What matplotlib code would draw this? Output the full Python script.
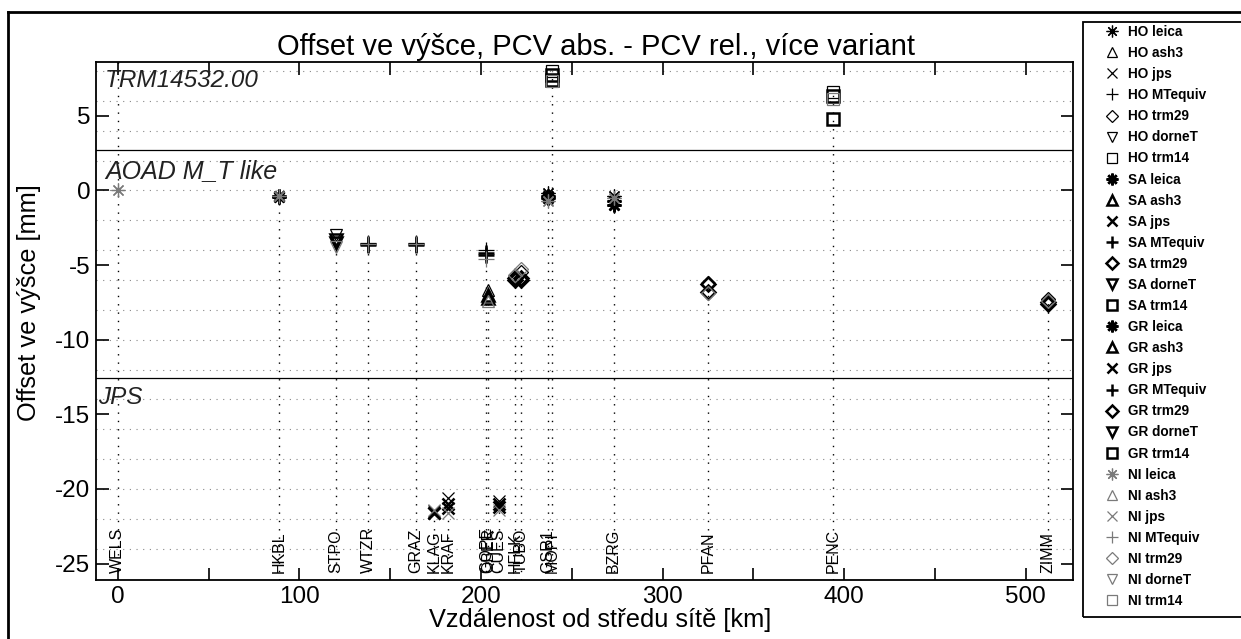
import numpy as np
import matplotlib.pyplot as plt
from matplotlib.lines import Line2D
from matplotlib.patches import Rectangle

plt.rcParams['font.family'] = ['Liberation Sans', 'DejaVu Sans']
plt.rcParams['axes.unicode_minus'] = False

# stations, distance from network centre [km], antenna type of each station
stations = ["WELS", "HKBL", "STPO", "WTZR", "GRAZ", "KLAG", "KRAF", "GOPE", "OBER",
            "CUES", "HFLK", "TUBO", "GSR1", "MOPI", "BZRG", "PFAN", "PENC", "ZIMM"]
distance = [0, 89, 120, 138, 164, 174, 182, 203, 204, 210, 219, 222, 237, 239, 273, 325, 394, 512]
antenna = ["leica", "leica", "dorneT", "MTequiv", "MTequiv", "jps", "jps", "MTequiv", "ash3",
           "jps", "trm29", "trm29", "leica", "trm14", "leica", "trm29", "trm14", "trm29"]

# height offsets [mm] per solution variant
ho = [np.nan, -0.40, -3.0, -3.55, -3.55, -21.5, -20.6, -4.0, -6.7, -20.8, -5.8, -5.5, -0.2, 8.0, -0.4, -6.2, 6.6, -7.3]
sa = [np.nan, -0.35, -3.3, -3.60, -3.60, -21.6, -21.0, -4.2, -7.0, -21.0, -5.9, -5.9, -0.4, 7.7, -0.7, -6.3, 4.8, -7.5]
gr = [np.nan, -0.45, -3.5, -3.65, -3.65, -21.6, -21.3, -4.3, -7.2, -21.2, -6.0, -6.0, -0.5, 7.4, -1.0, -6.8, 6.3, -7.6]
ni = [0.0, -0.40, -3.8, -3.60, -3.60, -21.4, -21.6, -4.6, -7.4, -21.4, -5.7, -5.3, -0.7, 7.3, -0.5, -6.9, 6.1, -7.4]

groups = ["HO", "SA", "GR", "NI"]
antennas = ["leica", "ash3", "jps", "MTequiv", "trm29", "dorneT", "trm14"]

markers = {"leica": (8, 2, 0), "ash3": "^", "jps": "x", "MTequiv": "+",
           "trm29": "D", "dorneT": "v", "trm14": "s"}
msizes = {"leica": 10, "ash3": 8, "jps": 8, "MTequiv": 11, "trm29": 7, "dorneT": 8, "trm14": 8}
gstyle = {"HO": ("black", 0.9), "SA": ("black", 1.8), "GR": ("black", 1.8), "NI": ("#7a7a7a", 0.9)}

W, H = 1241, 639
fig = plt.figure(figsize=(W / 100, H / 100), dpi=100)
ax = fig.add_axes([96 / W, 1 - 580 / H, (1073 - 96) / W, (580 - 62) / H])
ymin, ymax = -26.1, 8.6
ax.set_xlim(-12, 526)
ax.set_ylim(ymin, ymax)

# horizontal dotted grid every 2 mm
for g in np.arange(-24, 9, 2):
    ax.axhline(g, color="#888888", lw=0.8, dashes=(1, 5), zorder=1)

# group separators
ax.axhline(2.7, color="black", lw=0.9, zorder=2)
ax.axhline(-12.55, color="black", lw=0.9, zorder=2)

# station stems and names
vals = np.array([ho, sa, gr, ni])
for i, (st, d) in enumerate(zip(stations, distance)):
    top = np.nanmax(vals[:, i]) if st != "WELS" else ymax
    ax.plot([d, d], [ymin, top], color="black", lw=1.0, dashes=(1, 5), zorder=2)
    ax.text(d, -25.6, st, rotation=90, ha="center", va="bottom", fontsize=11.5, zorder=3)

# data markers
for g, series in zip(groups, [ho, sa, gr, ni]):
    col, mw = gstyle[g]
    for a in antennas:
        xs = [d for d, an, v in zip(distance, antenna, series) if an == a and not np.isnan(v)]
        ys = [v for an, v in zip(antenna, series) if an == a and not np.isnan(v)]
        ax.plot(xs, ys, linestyle="none", marker=markers[a], ms=msizes[a],
                mfc="none", mec=col, mew=mw, zorder=4)

# antenna group captions
ax.text(-7, 8.1, "TRM14532.00", style="italic", fontsize=17.5, va="top", color="#222222")
ax.text(-7, 2.1, "AOAD M_T like", style="italic", fontsize=18, va="top", color="#222222")
ax.text(-11, -13.1, "JPS", style="italic", fontsize=17.5, va="top", color="#222222")

ax.set_xticks([0, 100, 200, 300, 400, 500])
ax.set_xticks([50, 150, 250, 350, 450], minor=True)
ax.set_yticks([5, 0, -5, -10, -15, -20, -25])
ax.tick_params(which="both", direction="in", length=9, width=1.2, top=True, right=True,
               labelsize=17.5, pad=4)
for s in ax.spines.values():
    s.set_linewidth(1.3)

ax.set_title("Offset ve výšce, PCV abs. - PCV rel., více variant", fontsize=21, pad=5, x=0.512)
ax.set_xlabel("Vzdálenost od středu sítě [km]", fontsize=18.3, labelpad=0)
ax.xaxis.label.set_x(0.516)
ax.set_ylabel("Offset ve výšce [mm]", fontsize=18.3)
ax.yaxis.set_label_coords(-0.056, 0.535)

# legend
handles = []
for g in groups:
    col, mw = gstyle[g]
    for a in antennas:
        handles.append(Line2D([], [], linestyle="none", marker=markers[a], ms=msizes[a] * 0.85,
                              mfc="none", mec=col, mew=mw, label=f"{g} {a}"))
fig.add_artist(Rectangle((1083 / W, 1 - 617 / H), 200 / W, (617 - 22) / H, transform=fig.transFigure,
                         fill=False, edgecolor="black", lw=1.3))
fig.legend(handles=handles, loc="upper left", bbox_to_anchor=(1102 / W, 1 - 25 / H),
           frameon=False, prop={"size": 9.8, "weight": "bold"}, labelspacing=0.52,
           handlelength=1.5, handletextpad=0.4, borderpad=0, borderaxespad=0)

# outer frame of the scanned figure
fig.add_artist(Line2D([8 / W, 8 / W], [0, 1 - 12 / H], color="black", lw=2))
fig.add_artist(Line2D([8 / W, 1], [1 - 12 / H, 1 - 12 / H], color="black", lw=2))

fig.savefig("out.png", dpi=100)
